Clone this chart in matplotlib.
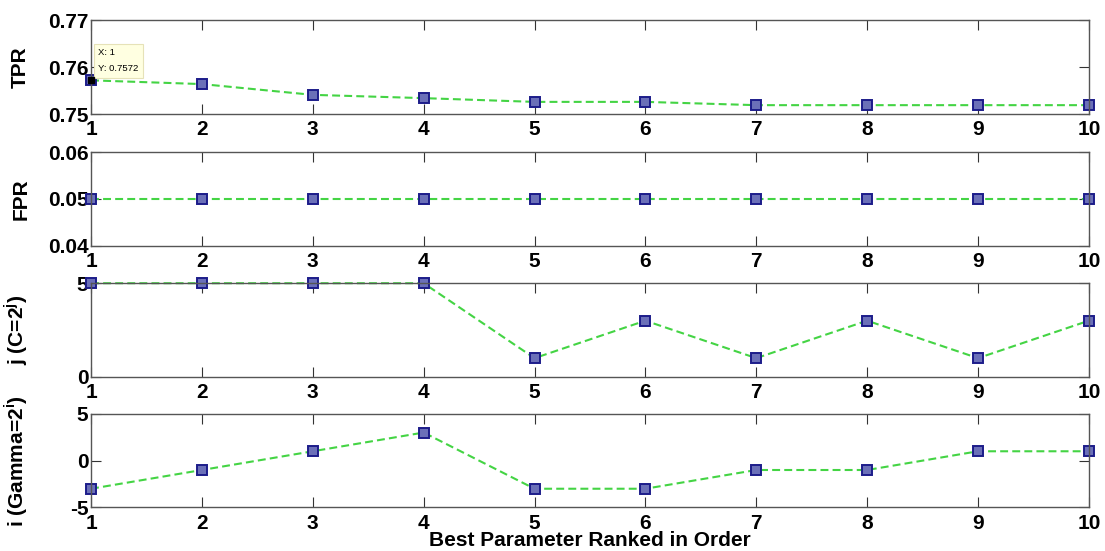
"""Ranked parameter plot: TPR, FPR and the two grid exponents for the best 10 settings."""
import matplotlib
matplotlib.use("Agg")
import matplotlib.pyplot as plt

plt.rcParams["font.family"] = ["Liberation Sans", "DejaVu Sans"]
plt.rcParams["font.weight"] = "bold"
plt.rcParams["mathtext.fontset"] = "custom"
plt.rcParams["mathtext.bf"] = "Liberation Sans:bold"
plt.rcParams["mathtext.rm"] = "Liberation Sans:bold"

rank = [1, 2, 3, 4, 5, 6, 7, 8, 9, 10]
tpr = [0.7572, 0.7564, 0.7541, 0.7534, 0.7526, 0.7526, 0.7519, 0.7519, 0.7519, 0.7519]
fpr = [0.05, 0.05, 0.05, 0.05, 0.05, 0.05, 0.05, 0.05, 0.05, 0.05]
j_exp = [5, 5, 5, 5, 1, 3, 1, 3, 1, 3]
i_exp = [-3, -1, 1, 3, -3, -3, -1, -1, 1, 1]

panels = [
    (tpr, "TPR", (0.75, 0.77), [0.75, 0.76, 0.77], ["0.75", "0.76", "0.77"]),
    (fpr, "FPR", (0.04, 0.06), [0.04, 0.05, 0.06], ["0.04", "0.05", "0.06"]),
    (j_exp, r"j (C=2$^{\mathrm{j}}$)", (0, 5), [0, 5], ["0", "5"]),
    (i_exp, r"i (Gamma=2$^{\mathrm{i}}$)", (-5, 5), [-5, 0, 5], ["-5", "0", "5"]),
]

FS = 15
fig = plt.figure(figsize=(11.05, 5.51), dpi=100)
bottoms = [0.793, 0.554, 0.316, 0.079]
axes = []
for b, (vals, lab, lim, ticks, tlabels) in zip(bottoms, panels):
    ax = fig.add_axes([0.0824, b, 0.903, 0.170])
    ax.plot(rank, vals, linestyle="--", color="#44d444", linewidth=1.5,
            marker="s", markersize=6.5, markerfacecolor="#6b70b8",
            markeredgecolor="#1c1c8a", markeredgewidth=1.4, clip_on=False,
            dashes=(3.8, 2.0))
    ax.set_xlim(1, 10)
    ax.set_ylim(*lim)
    ax.set_xticks(rank)
    ax.set_yticks(ticks)
    ax.set_yticklabels(tlabels)
    ax.tick_params(direction="in", length=7.5, width=0.8, color="#333333",
                   labelsize=FS, top=True, right=True, pad=2)
    ax.tick_params(axis="x", pad=4.5)
    for sp in ax.spines.values():
        sp.set_color("#555555")
        sp.set_linewidth(1.0)
    ax.set_ylabel(lab, fontsize=FS, fontweight="bold")
    ax.yaxis.set_label_coords(-0.061, 0.5)
    axes.append(ax)

# data tip on the first TPR point
ax0 = axes[0]
ax0.plot([rank[0]], [tpr[0]], marker="s", color="black", markersize=4.5,
         linestyle="none", clip_on=False, zorder=5)
ax0.annotate("X: 1\nY: %.4f" % tpr[0], xy=(rank[0], tpr[0]), xytext=(5, 5),
             textcoords="offset points", fontsize=6.8, fontweight="normal",
             va="bottom", ha="left", linespacing=2.0,
             bbox=dict(boxstyle="square,pad=0.45", facecolor="#ffffe1",
                       edgecolor="#e6e2b8", linewidth=0.8))

axes[-1].set_xlabel("Best Parameter Ranked in Order", fontsize=FS,
                    fontweight="bold", labelpad=-1)

fig.savefig("out.png", dpi=100)
